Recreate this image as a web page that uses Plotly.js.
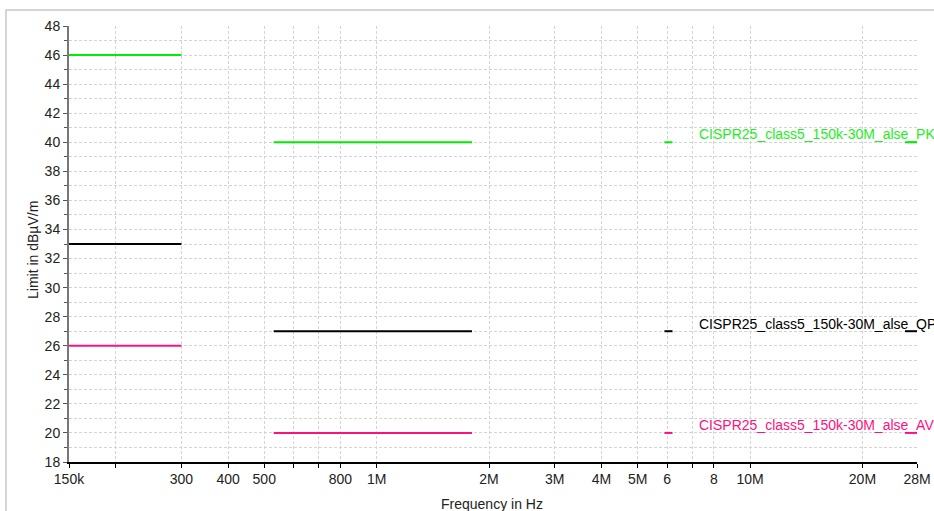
<!DOCTYPE html>
<html>
<head>
<meta charset="utf-8">
<script src="https://cdn.plot.ly/plotly-3.0.1.min.js"></script>
<style>
html,body{margin:0;padding:0;background:#fff;}
#chart{width:934px;height:511px;}
</style>
</head>
<body>
<div id="chart"></div>
<script>
// CISPR 25 class 5 ALSE bands (Hz)
const bandStart = [150e3, 530e3, 5.9e6, 26e6];
const bandEnd   = [300e3, 1.8e6, 6.2e6, 28e6];
// Limits in dBµV/m per band
const limitPK = [46, 40, 40, 40];
const limitQP = [33, 27, 27, 27];
const limitAV = [26, 20, 20, 20];
const seriesNames = ["CISPR25_class5_150k-30M_alse_PK", "CISPR25_class5_150k-30M_alse_QP", "CISPR25_class5_150k-30M_alse_AV"];
// Axis ticks
const xTickVals = [150e3, 200e3, 300e3, 400e3, 500e3, 600e3, 700e3, 800e3, 1e6, 2e6, 3e6, 4e6, 5e6, 6e6, 7e6, 8e6, 10e6, 20e6, 28e6];
const xTickText = ["150k", "", "300", "400", "500", "", "", "800", "1M", "2M", "3M", "4M", "5M", "6", "", "8", "10M", "20M", "28M"];
const labelFreq = 7.2e6;
const xTitle = "Frequency in Hz";
const yTitle = "Limit in dBµV/m";

const colors = ["#00ee00", "#000000", "#ff1080"];
const textColors = ["#22ee22", "#000000", "#ff1080"];
const labelShift = [8, 7, 8];
const FONT = 'Liberation Sans, Arial, sans-serif';

function segments(levels){
  const x = [], y = [];
  for (let i = 0; i < bandStart.length; i++){
    x.push(bandStart[i], bandEnd[i], null);
    y.push(levels[i], levels[i], null);
  }
  return {x, y};
}

const allLevels = [limitPK, limitQP, limitAV];
const traces = allLevels.map((lv, k) => {
  const s = segments(lv);
  return {
    x: s.x, y: s.y, type: 'scatter', mode: 'lines', name: seriesNames[k],
    line: {color: colors[k], width: 2}, connectgaps: false, hoverinfo: 'skip'
  };
});

const annotations = allLevels.map((lv, k) => ({
  x: Math.log10(labelFreq), y: lv[lv.length - 1], xref: 'x', yref: 'y',
  text: seriesNames[k], showarrow: false, xanchor: 'left', yanchor: 'middle',
  yshift: labelShift[k], font: {family: FONT, size: 14, color: textColors[k]}
}));
annotations.push({
  x: (491.5 - 69) / 848, y: (462 - 504) / 436, xref: 'paper', yref: 'paper',
  text: xTitle, showarrow: false, xanchor: 'center', yanchor: 'middle',
  font: {family: FONT, size: 14, color: '#222'}
});
annotations.push({
  x: (33 - 69) / 848, y: (462 - 250) / 436, xref: 'paper', yref: 'paper',
  text: yTitle, showarrow: false, xanchor: 'center', yanchor: 'middle', textangle: -90,
  font: {family: FONT, size: 14, color: '#222'}
});

const gridCol = '#d4d4d4';
const layout = {
  width: 934, height: 511,
  margin: {l: 69, r: 17, t: 26, b: 49},
  paper_bgcolor: '#fff', plot_bgcolor: '#fff',
  showlegend: false,
  font: {family: FONT, size: 14, color: '#222'},
  xaxis: {
    type: 'log',
    range: [Math.log10(150e3), Math.log10(28e6)],
    tickmode: 'array', tickvals: xTickVals, ticktext: xTickText,
    ticks: 'outside', ticklen: 4, tickcolor: '#000',
    showline: true, linecolor: '#000', linewidth: 1.5,
    showgrid: true, gridcolor: gridCol, griddash: '3px,2px', gridwidth: 1,
    zeroline: false,
    tickfont: {family: FONT, size: 14, color: '#222'},
    automargin: false
  },
  yaxis: {
    range: [18, 48],
    tickmode: 'linear', tick0: 18, dtick: 2,
    ticks: 'outside', ticklen: 4, tickcolor: '#555',
    minor: {dtick: 1, ticks: 'outside', ticklen: 3, tickcolor: '#555', showgrid: true, gridcolor: gridCol, griddash: '3px,2px'},
    showline: true, linecolor: '#777', linewidth: 2,
    showgrid: true, gridcolor: gridCol, griddash: '3px,2px', gridwidth: 1,
    zeroline: false,
    tickfont: {family: FONT, size: 14, color: '#222'},
    automargin: false
  },
  shapes: [{
    type: 'rect', xref: 'paper', yref: 'paper',
    x0: (6 - 69) / 848, x1: 1.1, y0: -0.3, y1: 1 + 16 / 436,
    line: {color: '#c8c8c8', width: 1.5}, fillcolor: 'rgba(0,0,0,0)', layer: 'below'
  }],
  annotations: annotations
};

Plotly.newPlot('chart', traces, layout, {displayModeBar: false, staticPlot: true});
</script>
</body>
</html>
